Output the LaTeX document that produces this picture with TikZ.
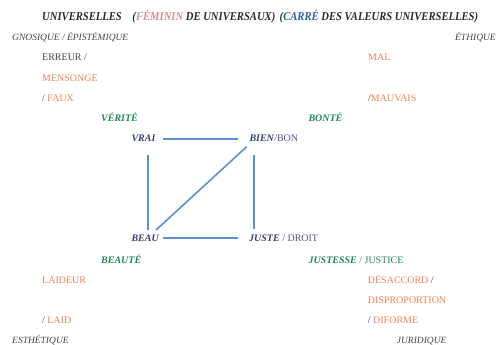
\documentclass[tikz,border=0pt]{standalone}
\usepackage{fontspec}
\setmainfont{Liberation Serif}
\definecolor{navy}{HTML}{333D7A}
\definecolor{navyl}{HTML}{4A5490}
\definecolor{txtgray}{HTML}{444444}
\definecolor{orng}{HTML}{F28157}
\definecolor{grn}{HTML}{1E8A50}
\definecolor{pnk}{HTML}{D98C90}
\definecolor{blu}{HTML}{2F5BAE}
\definecolor{lineblue}{HTML}{5B8FD0}
\tikzset{
  lbl/.style={inner sep=0pt, anchor=base west, font=\fontsize{10}{12}\selectfont},
  dom/.style={lbl, text=txtgray, font=\fontsize{9.5}{12}\selectfont\itshape},
  val/.style={lbl, text=grn, font=\fontsize{10}{12}\selectfont\bfseries\itshape},
  corner/.style={lbl, text=navy, font=\fontsize{10}{12}\selectfont\bfseries\itshape},
  ttl/.style={inner sep=0pt, anchor=base west, font=\fontsize{12}{14}\selectfont\bfseries\itshape},
  sqline/.style={draw=lineblue, line width=1.6pt},
}
\begin{document}
\begin{tikzpicture}[x=1pt,y=-1pt]
\useasboundingbox (0,0) rectangle (498,345);
% title
\node[ttl] (title) at (42,20.5) {\scalebox{0.885}[1]{\color{txtgray!60!black}UNIVERSELLES\hspace{12pt}(\textcolor{pnk}{FÉMININ} DE UNIVERSAUX)\hspace{5pt}(\textcolor{blu}{CARRÉ} DES VALEURS UNIVERSELLES)}};
% domains
\node[dom] (gno) at (12,40.7) {GNOSIQUE / ÉPISTÉMIQUE};
\node[dom, anchor=base east] (eth) at (496,40.7) {ÉTHIQUE};
\node[dom] (esth) at (12,343.3) {ESTHÉTIQUE};
\node[dom] (jur) at (396.7,343.3) {JURIDIQUE};
% opposites
\node[lbl, text=txtgray] (err) at (42,61) {ERREUR /};
\node[lbl, text=orng] (mens) at (42,81.3) {MENSONGE};
\node[lbl, text=txtgray] (faux) at (42,102) {/ \textcolor{orng}{FAUX}};
\node[lbl, text=orng] (mal) at (368,61) {MAL};
\node[lbl, text=txtgray] (mauv) at (368,102) {/\textcolor{orng}{MAUVAIS}};
\node[lbl, text=orng] (laideur) at (42,283.3) {LAIDEUR};
\node[lbl, text=txtgray] (laid) at (42,323.3) {/ \textcolor{orng}{LAID}};
\node[lbl, text=orng] (desacc) at (367.7,283.3) {DÉSACCORD \textcolor{txtgray}{/}};
\node[lbl, text=orng] (dispro) at (367.7,303.3) {DISPROPORTION};
\node[lbl, text=txtgray] (diform) at (367.7,323.3) {/ \textcolor{orng}{DIFORME}};
% values
\node[val] (verite) at (101,121.7) {VÉRITÉ};
\node[val] (bonte) at (308.3,121.7) {BONTÉ};
\node[val] (beaute) at (101,263.3) {BEAUTÉ};
\node[lbl, text=grn] (justesse) at (308.3,263.3) {\textbf{\textit{JUSTESSE}} / JUSTICE};
% square corners
\node[corner] (vrai) at (131.3,141.7) {VRAI};
\node[lbl, text=navyl] (bien) at (249.3,141.7) {\textcolor{navy}{\textbf{\textit{BIEN}}}/BON};
\node[corner] (beau) at (131.3,241.7) {BEAU};
\node[lbl, text=navyl] (juste) at (249,241.7) {\textcolor{navy}{\textbf{\textit{JUSTE}}} / DROIT};
% line ends
\coordinate (t1) at (163,138.8);
\coordinate (t2) at (238,138.8);
\coordinate (b1) at (163,238);
\coordinate (b2) at (238,238);
\coordinate (l1) at (148,155);
\coordinate (l2) at (148,230);
\coordinate (r1) at (254,155);
\coordinate (r2) at (254,229);
\coordinate (d1) at (246.7,146.7);
\coordinate (d2) at (156,230);
\draw[sqline] (b1) -- (b2);
\draw[sqline] (l1) -- (l2);
\draw[sqline] (r1) -- (r2);
\draw[sqline] (d1) -- (d2);
\draw[sqline] (t1) -- (t2);
\end{tikzpicture}
\end{document}
